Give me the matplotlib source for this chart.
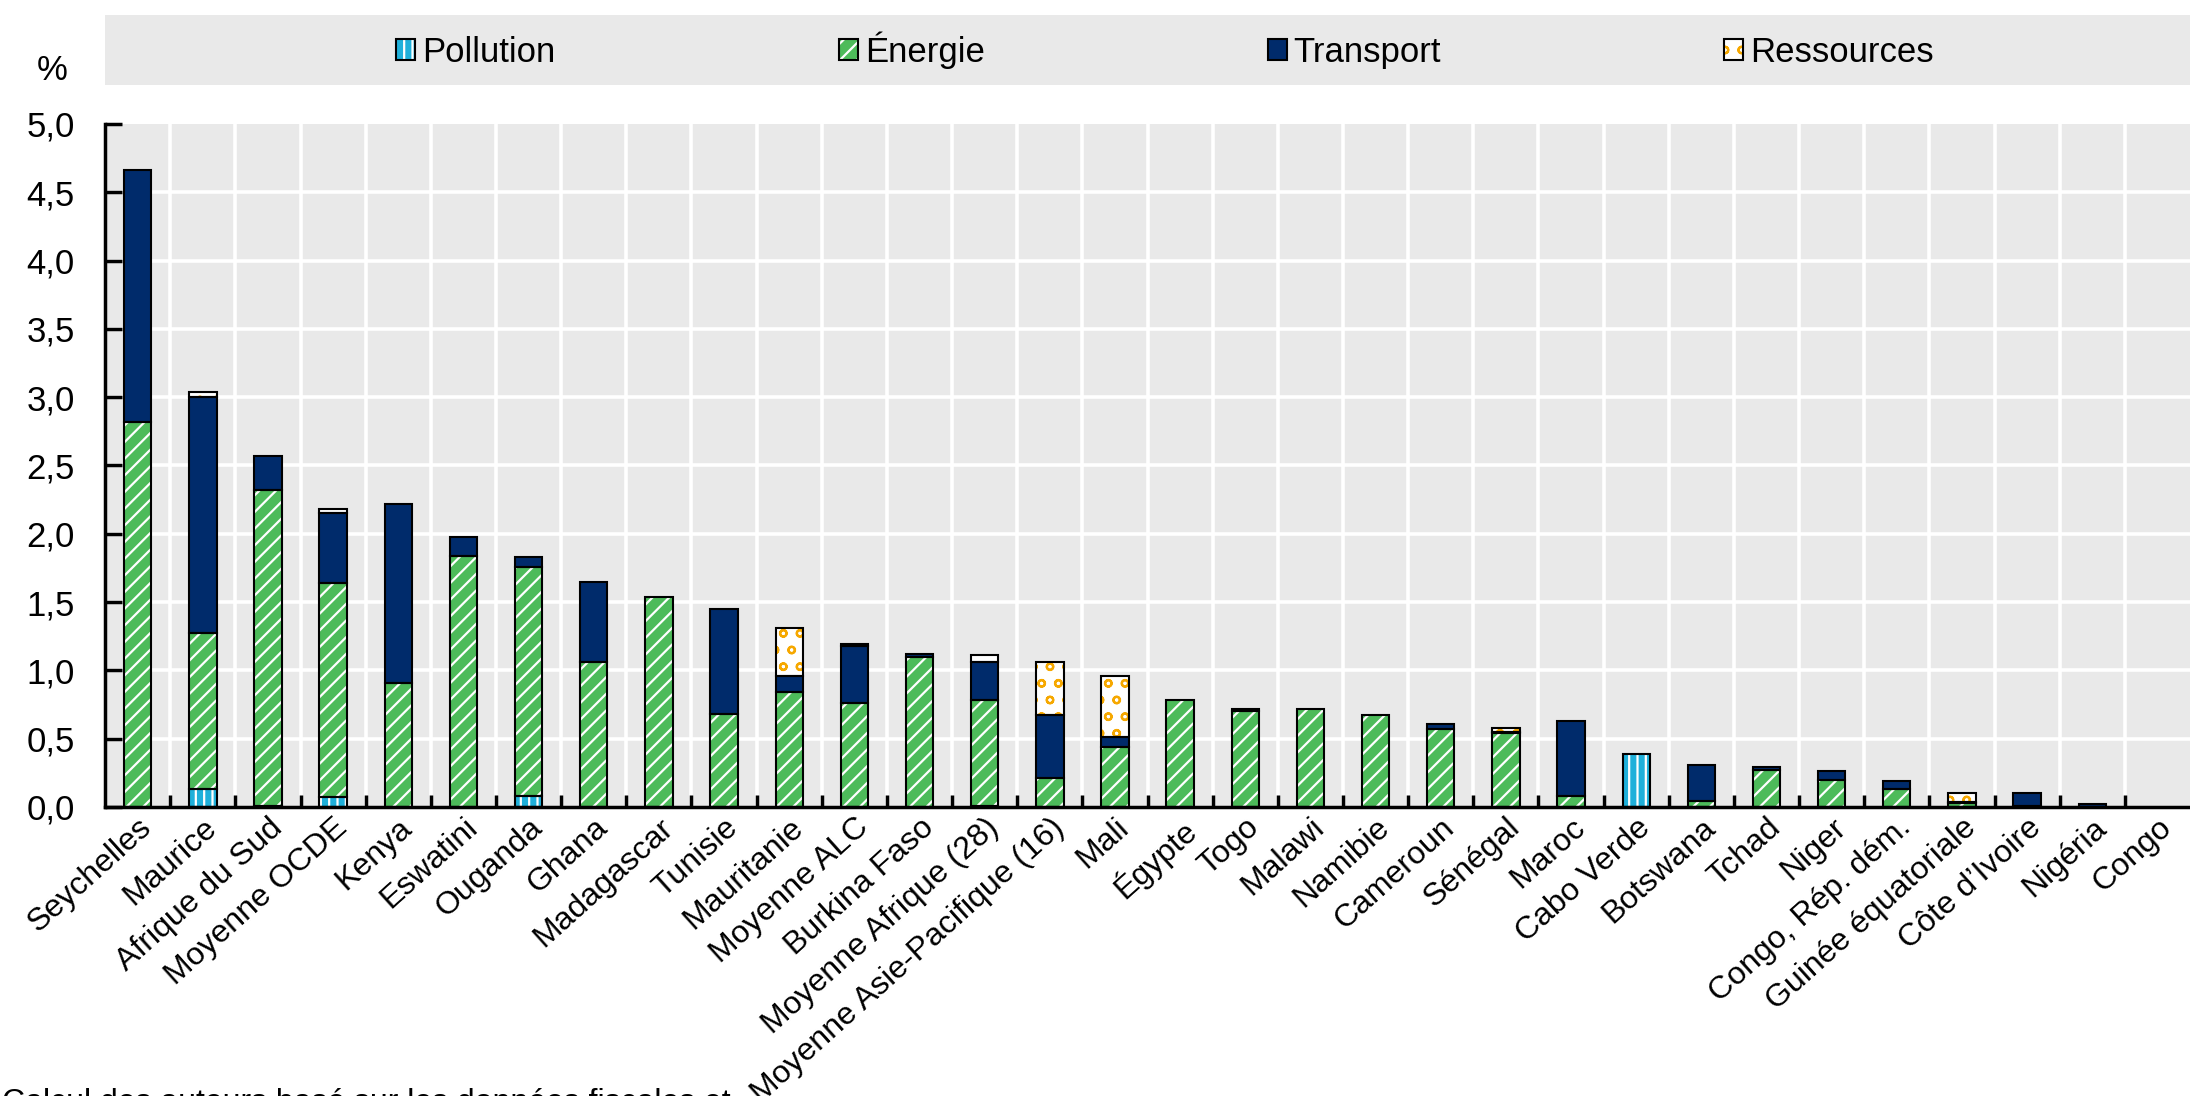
import matplotlib
matplotlib.use("Agg")
import matplotlib.pyplot as plt
from matplotlib.patches import Patch, Rectangle
from matplotlib.legend_handler import HandlerTuple
from matplotlib.ticker import FixedLocator, FuncFormatter
import numpy as np

plt.rcParams["font.family"] = ["Liberation Sans", "DejaVu Sans"]
plt.rcParams["hatch.linewidth"] = 1.6

categories = [
    "Seychelles", "Maurice", "Afrique du Sud", "Moyenne OCDE", "Kenya", "Eswatini",
    "Ouganda", "Ghana", "Madagascar", "Tunisie", "Mauritanie", "Moyenne ALC",
    "Burkina Faso", "Moyenne Afrique (28)", "Moyenne Asie-Pacifique (16)", "Mali",
    "Égypte", "Togo", "Malawi", "Namibie", "Cameroun", "Sénégal", "Maroc",
    "Cabo Verde", "Botswana", "Tchad", "Niger", "Congo, Rép. dém.",
    "Guinée équatoriale", "Côte d’Ivoire", "Nigéria", "Congo",
]

pollution = [0, 0.13, 0.01, 0.07, 0, 0, 0.08, 0, 0, 0, 0, 0, 0, 0.01, 0, 0,
             0, 0, 0, 0, 0, 0, 0, 0.39, 0, 0, 0, 0, 0, 0, 0, 0]
energie = [2.82, 1.14, 2.31, 1.57, 0.91, 1.84, 1.68, 1.06, 1.54, 0.68, 0.84, 0.76,
           1.10, 0.77, 0.21, 0.44, 0.78, 0.70, 0.72, 0.67, 0.57, 0.54, 0.08, 0,
           0.045, 0.27, 0.20, 0.13, 0.03, 0.005, 0, 0]
transport = [1.84, 1.73, 0.25, 0.51, 1.31, 0.14, 0.07, 0.59, 0, 0.77, 0.12, 0.42,
             0.02, 0.28, 0.46, 0.07, 0, 0.02, 0, 0, 0.04, 0.01, 0.55, 0,
             0.26, 0.02, 0.06, 0.06, 0.01, 0.10, 0.02, 0]
ressources = [0, 0.04, 0, 0.03, 0, 0, 0, 0, 0, 0, 0.35, 0.01, 0, 0.05, 0.39, 0.45,
              0, 0, 0, 0, 0, 0.03, 0, 0, 0, 0, 0, 0, 0.065, 0, 0, 0]

series = [
    ("Pollution", pollution, "#1fb0da", "white", "||"),
    ("Énergie", energie, "#4dbb5a", "white", "//"),
    ("Transport", transport, "#002b6b", "#002b6b", None),
    ("Ressources", ressources, "white", "#f6a800", "o"),
]

bg = "#e9e9e9"
fs = 23

fig = plt.figure(figsize=(21.9, 10.96), dpi=100)
ax = fig.add_axes([0.048, 0.2637, 0.952, 0.6232])
ax.set_facecolor(bg)

x = np.arange(len(categories))
width = 0.42
bottom = np.zeros(len(categories))
handles = []
for name, vals, face, hcol, hatch in series:
    vals = np.array(vals, dtype=float)
    m = vals > 0
    ax.bar(x[m], vals[m], width, bottom=bottom[m], color=face, edgecolor=hcol,
           hatch=hatch, linewidth=0, zorder=2)
    ax.bar(x[m], vals[m], width, bottom=bottom[m], fill=False, edgecolor="black",
           linewidth=1.5, zorder=3)
    bottom = bottom + vals
    handles.append((Patch(facecolor=face, edgecolor=hcol, hatch=hatch, linewidth=0),
                    Patch(fill=False, edgecolor="black", linewidth=1.5)))

ax.set_xlim(-0.5, len(categories) - 0.5)
ax.set_ylim(0, 5.0)

# grid: white lines at category boundaries and every 0.5
for b in np.arange(0.5, len(categories) - 0.5, 1):
    ax.axvline(b, color="white", linewidth=2.6, zorder=1)
for yv in np.arange(0.5, 5.0, 0.5):
    ax.axhline(yv, color="white", linewidth=2.6, zorder=1)

ax.set_xticks(x)
ax.set_xticklabels(categories, rotation=42, ha="right", rotation_mode="anchor",
                   fontsize=fs)
ax.tick_params(axis="x", length=0, pad=4)
ax.xaxis.set_minor_locator(FixedLocator(np.arange(0.5, len(categories) - 0.5, 1)))
ax.tick_params(axis="x", which="minor", direction="in", length=9, width=2.5,
               color="black")

ax.set_yticks(np.arange(0, 5.01, 0.5))
ax.yaxis.set_major_formatter(FuncFormatter(lambda v, p: f"{v:.1f}".replace(".", ",")))
ax.tick_params(axis="y", direction="in", length=12, width=2.5, labelsize=25, pad=22)

for s in ["top", "right"]:
    ax.spines[s].set_visible(False)
for s in ["left", "bottom"]:
    ax.spines[s].set_linewidth(2.5)

# legend band
fig.patches.append(Rectangle((0.048, 0.922), 0.952, 0.064, transform=fig.transFigure,
                             facecolor=bg, edgecolor="none", zorder=0))
fig.legend(handles, [s[0] for s in series], handler_map={tuple: HandlerTuple(ndivide=1)},
           loc="center", bbox_to_anchor=(0.532, 0.954), ncol=4, frameon=False,
           fontsize=25, handlelength=0.55, handleheight=0.55, handletextpad=0.2,
           columnspacing=8.15)

fig.text(0.024, 0.936, "%", fontsize=25, ha="center", va="center")
fig.text(0.001, 0.007, "Calcul des auteurs basé sur les données fiscales et",
         fontsize=fs, ha="left", va="top")

fig.savefig("out.png", dpi=100)
